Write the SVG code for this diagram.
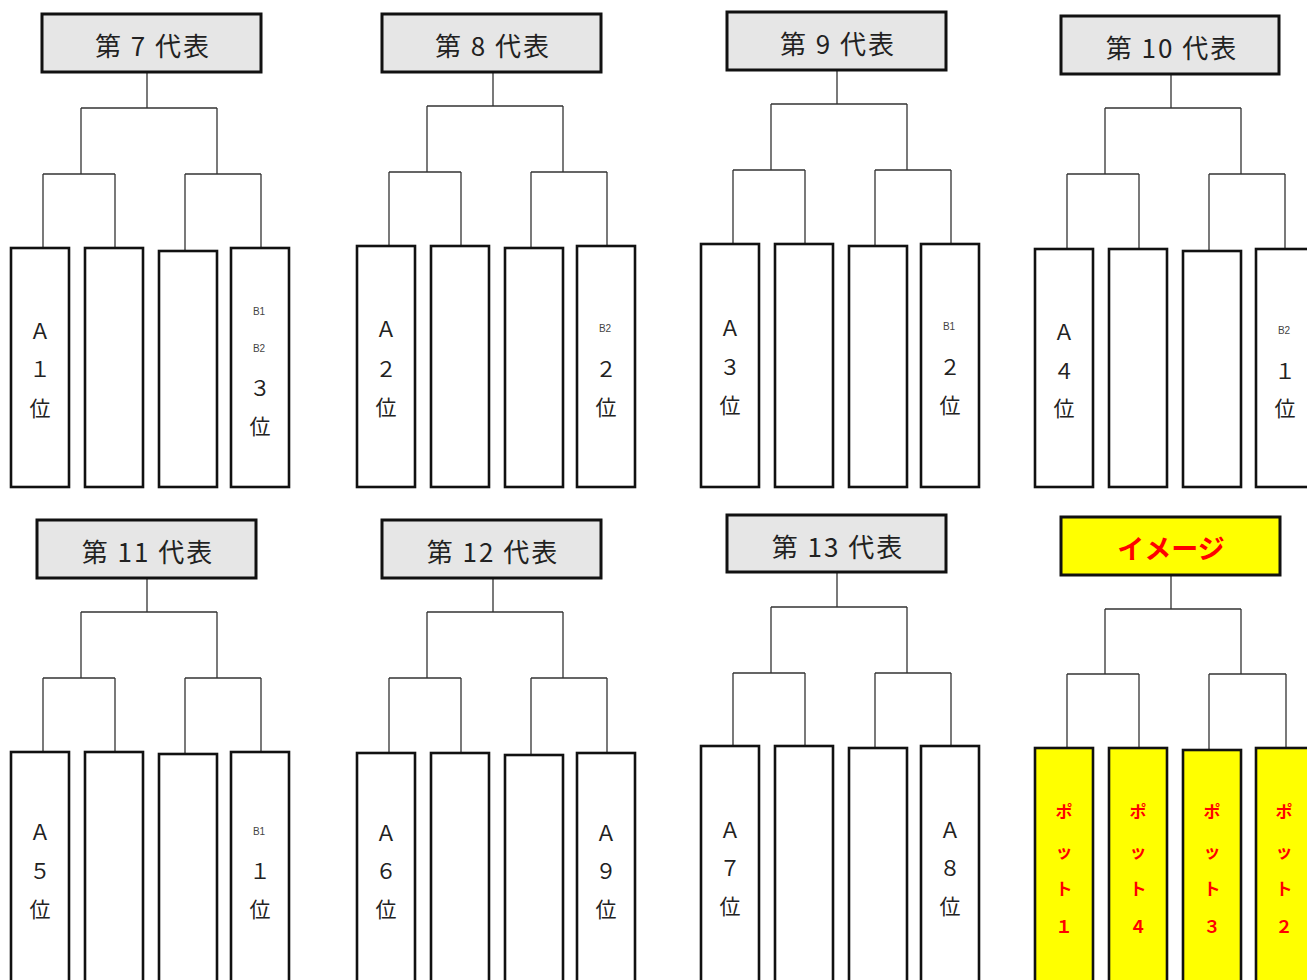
<svg xmlns="http://www.w3.org/2000/svg" width="1307" height="980" viewBox="0 0 1307 980">
<style>
.hd{fill:#E6E6E6;stroke:#111;stroke-width:3}
.hy{fill:#FFFF00;stroke:#111;stroke-width:3}
.bx{fill:#FFFFFF;stroke:#111;stroke-width:2.6}
.by{fill:#FFFF00;stroke:#111;stroke-width:2.6}
.ht{font-family:"Noto Sans CJK JP","Noto Sans",sans-serif;font-size:26px;letter-spacing:2px;fill:#222;text-anchor:middle;dominant-baseline:central}
.hr{font-family:"Noto Sans CJK JP","Noto Sans",sans-serif;font-size:27px;font-weight:bold;fill:#FF0000;text-anchor:middle;dominant-baseline:central}
.t{font-family:"Noto Sans CJK JP","Noto Sans",sans-serif;font-size:21px;fill:#222;text-anchor:middle;dominant-baseline:central}
.s{font-family:"Liberation Sans",Arial,sans-serif;font-size:10px;fill:#444;text-anchor:middle;dominant-baseline:central}
.r{font-family:"Noto Sans CJK JP","Noto Sans",sans-serif;font-size:17px;font-weight:bold;fill:#FF0000;text-anchor:middle;dominant-baseline:central}
.c{fill:none;stroke:#333;stroke-width:1.3}
</style>
<g id="connectors" class="c">
<path d="M147 73V108M81 108H217M81 108V174M217 108V174M43 174H115M43 174V248M115 174V248M185 174H261M185 174V251M261 174V248"/>
<path d="M493 73V106M427 106H563M427 106V172M563 106V172M389 172H461M389 172V246M461 172V246M531 172H607M531 172V248M607 172V246"/>
<path d="M837 71V104M771 104H907M771 104V170M907 104V170M733 170H805M733 170V244M805 170V244M875 170H951M875 170V246M951 170V244"/>
<path d="M1171 74V108M1105 108H1241M1105 108V174M1241 108V174M1067 174H1139M1067 174V249M1139 174V249M1209 174H1285M1209 174V251M1285 174V249"/>
<path d="M147 578V612M81 612H217M81 612V678M217 612V678M43 678H115M43 678V752M115 678V752M185 678H261M185 678V754M261 678V752"/>
<path d="M493 578V612M427 612H563M427 612V678M563 612V678M389 678H461M389 678V753M461 678V753M531 678H607M531 678V755M607 678V753"/>
<path d="M837 572V607M771 607H907M771 607V673M907 607V673M733 673H805M733 673V746M805 673V746M875 673H951M875 673V748M951 673V746"/>
<path d="M1171 575V609M1105 609H1241M1105 609V674M1241 609V674M1067 674H1139M1067 674V748M1139 674V748M1209 674H1286M1209 674V750M1286 674V748"/>
</g>
<g id="p7">
<rect class="hd" x="42" y="14" width="219" height="58"/><text class="ht" x="153" y="44">第 7 代表</text>
<rect class="bx" x="11" y="248" width="58" height="239"/>
<rect class="bx" x="85" y="248" width="58" height="239"/>
<rect class="bx" x="159" y="251" width="58" height="236"/>
<rect class="bx" x="231" y="248" width="58" height="239"/>
<text class="t" x="40" y="330">Ａ</text><text class="t" x="40" y="368">１</text><text class="t" x="40" y="407">位</text>
<text class="s" x="259" y="311">B1</text><text class="s" x="259" y="348">B2</text><text class="t" x="260" y="387">３</text><text class="t" x="260" y="425">位</text>
</g>
<g id="p8">
<rect class="hd" x="382" y="14" width="219" height="58"/><text class="ht" x="493" y="44">第 8 代表</text>
<rect class="bx" x="357" y="246" width="58" height="241"/>
<rect class="bx" x="431" y="246" width="58" height="241"/>
<rect class="bx" x="505" y="248" width="58" height="239"/>
<rect class="bx" x="577" y="246" width="58" height="241"/>
<text class="t" x="386" y="328">Ａ</text><text class="t" x="386" y="368">２</text><text class="t" x="386" y="406">位</text>
<text class="s" x="605" y="328">B2</text><text class="t" x="606" y="368">２</text><text class="t" x="606" y="406">位</text>
</g>
<g id="p9">
<rect class="hd" x="727" y="12" width="219" height="58"/><text class="ht" x="838" y="42">第 9 代表</text>
<rect class="bx" x="701" y="244" width="58" height="243"/>
<rect class="bx" x="775" y="244" width="58" height="243"/>
<rect class="bx" x="849" y="246" width="58" height="241"/>
<rect class="bx" x="921" y="244" width="58" height="243"/>
<text class="t" x="730" y="327">Ａ</text><text class="t" x="730" y="366">３</text><text class="t" x="730" y="404">位</text>
<text class="s" x="949" y="326">B1</text><text class="t" x="950" y="366">２</text><text class="t" x="950" y="404">位</text>
</g>
<g id="p10">
<rect class="hd" x="1061" y="16" width="218" height="58"/><text class="ht" x="1172" y="46">第 10 代表</text>
<rect class="bx" x="1035" y="249" width="58" height="238"/>
<rect class="bx" x="1109" y="249" width="58" height="238"/>
<rect class="bx" x="1183" y="251" width="58" height="236"/>
<rect class="bx" x="1256" y="249" width="58" height="238"/>
<text class="t" x="1064" y="331">Ａ</text><text class="t" x="1064" y="370">４</text><text class="t" x="1064" y="407">位</text>
<text class="s" x="1284" y="330">B2</text><text class="t" x="1285" y="370">１</text><text class="t" x="1285" y="407">位</text>
</g>
<g id="p11">
<rect class="hd" x="37" y="520" width="219" height="58"/><text class="ht" x="148" y="550">第 11 代表</text>
<rect class="bx" x="11" y="752" width="58" height="240"/>
<rect class="bx" x="85" y="752" width="58" height="240"/>
<rect class="bx" x="159" y="754" width="58" height="240"/>
<rect class="bx" x="231" y="752" width="58" height="240"/>
<text class="t" x="40" y="831">Ａ</text><text class="t" x="40" y="870">５</text><text class="t" x="40" y="908">位</text>
<text class="s" x="259" y="831">B1</text><text class="t" x="260" y="870">１</text><text class="t" x="260" y="908">位</text>
</g>
<g id="p12">
<rect class="hd" x="382" y="520" width="219" height="58"/><text class="ht" x="493" y="550">第 12 代表</text>
<rect class="bx" x="357" y="753" width="58" height="240"/>
<rect class="bx" x="431" y="753" width="58" height="240"/>
<rect class="bx" x="505" y="755" width="58" height="240"/>
<rect class="bx" x="577" y="753" width="58" height="240"/>
<text class="t" x="386" y="832">Ａ</text><text class="t" x="386" y="870">６</text><text class="t" x="386" y="908">位</text>
<text class="t" x="606" y="832">Ａ</text><text class="t" x="606" y="870">９</text><text class="t" x="606" y="908">位</text>
</g>
<g id="p13">
<rect class="hd" x="727" y="515" width="219" height="57"/><text class="ht" x="838" y="545">第 13 代表</text>
<rect class="bx" x="701" y="746" width="58" height="250"/>
<rect class="bx" x="775" y="746" width="58" height="250"/>
<rect class="bx" x="849" y="748" width="58" height="250"/>
<rect class="bx" x="921" y="746" width="58" height="250"/>
<text class="t" x="730" y="829">Ａ</text><text class="t" x="730" y="867">７</text><text class="t" x="730" y="905">位</text>
<text class="t" x="950" y="829">Ａ</text><text class="t" x="950" y="867">８</text><text class="t" x="950" y="905">位</text>
</g>
<g id="image">
<rect class="hy" x="1061" y="517" width="219" height="58"/><text class="hr" x="1171" y="547">イメージ</text>
<rect class="by" x="1035" y="748" width="58" height="250"/>
<rect class="by" x="1109" y="748" width="58" height="250"/>
<rect class="by" x="1183" y="750" width="58" height="250"/>
<rect class="by" x="1256" y="748" width="58" height="250"/>
<text class="r" x="1064" y="810">ポ</text><text class="r" x="1064" y="850">ッ</text><text class="r" x="1064" y="887">ト</text><text class="r" x="1064" y="925">１</text>
<text class="r" x="1138" y="810">ポ</text><text class="r" x="1138" y="850">ッ</text><text class="r" x="1138" y="887">ト</text><text class="r" x="1138" y="925">４</text>
<text class="r" x="1212" y="810">ポ</text><text class="r" x="1212" y="850">ッ</text><text class="r" x="1212" y="887">ト</text><text class="r" x="1212" y="925">３</text>
<text class="r" x="1284" y="810">ポ</text><text class="r" x="1284" y="850">ッ</text><text class="r" x="1284" y="887">ト</text><text class="r" x="1284" y="925">２</text>
</g>
</svg>
